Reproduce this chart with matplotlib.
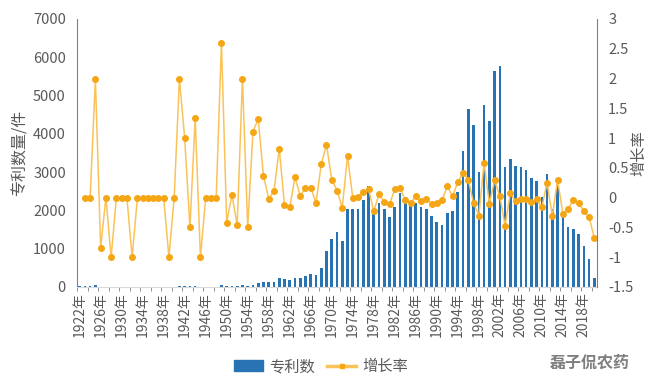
import numpy as np
import matplotlib.pyplot as plt
from matplotlib.patches import Patch
from matplotlib.lines import Line2D

plt.rcParams['font.family'] = ['Noto Sans CJK SC', 'DejaVu Sans']

years = list(range(1922, 2021))

# patent counts per year
patents = [15, 15, 15, 45, 7, 7, 0, 0, 0, 8,
           0, 0, 0, 0, 0, 0, 5, 0, 5, 15,
           30, 15, 35, 0, 0, 0, 12, 43, 25, 26,
           14, 42, 21, 44, 102, 120, 118, 131, 238, 210,
           176, 236, 243, 284, 332, 302, 489, 950, 1248, 1431,
           1196, 2033, 2033, 2050, 2269, 2636, 2030, 2190, 2034, 1825,
           2087, 2453, 2348, 2139, 2190, 2087, 2034, 1851, 1694, 1615,
           1929, 1982, 2480, 3553, 4652, 4233, 3003, 4757, 4338, 5647,
           5778, 3134, 3343, 3160, 3134, 3055, 2845, 2766, 2348, 2950,
           2034, 2689, 1930, 1570, 1510, 1380, 1080, 720, 236]

# growth rate, starts at 1923
growth = [0, 0, 2.0, -0.84, 0, -1, 0, 0, 0, -1,
          0, 0, 0, 0, 0, 0, -1, 0, 2.0, 1.0,
          -0.5, 1.33, -1, 0, 0, 0, 2.6, -0.42, 0.05, -0.46,
          2.0, -0.5, 1.11, 1.32, 0.37, -0.02, 0.11, 0.82, -0.12, -0.16,
          0.34, 0.03, 0.17, 0.17, -0.09, 0.56, 0.89, 0.30, 0.12, -0.17,
          0.70, 0.0, 0.01, 0.09, 0.15, -0.23, 0.06, -0.07, -0.11, 0.14,
          0.16, -0.04, -0.09, 0.02, -0.06, -0.03, -0.10, -0.09, -0.04, 0.19,
          0.02, 0.26, 0.42, 0.30, -0.09, -0.30, 0.59, -0.10, 0.29, 0.02,
          -0.47, 0.07, -0.06, -0.02, -0.03, -0.08, -0.03, -0.16, 0.25, -0.31,
          0.30, -0.27, -0.19, -0.04, -0.09, -0.22, -0.33, -0.68]

tick_years = years[::4]
tick_labels = [f'{y}年' for y in tick_years]

bar_color = '#2873B3'
line_color = '#FAC35A'
mark_color = '#F5A614'
text_color = '#595959'

fig = plt.figure(figsize=(6.49, 3.9), dpi=100)
ax = fig.add_axes([77/649, 1-287/390, 520/649, 268/390])
x = np.arange(len(years))
ax.bar(x, patents, width=0.5, color=bar_color)
ax.set_xlim(-0.5, len(years)-0.5)
ax.set_ylim(0, 7000)
ax.set_yticks(range(0, 7001, 1000))
ax.set_xticks([years.index(y) for y in tick_years])
ax.set_xticklabels(tick_labels, rotation=90, fontsize=10, color=text_color)
ax.set_xticks(np.arange(-0.5, len(years), 2), minor=True)
ax.tick_params(axis='x', which='major', length=0, pad=4)
ax.tick_params(axis='x', which='minor', length=3, color='#808080')
ax.tick_params(axis='y', length=0, pad=8, labelsize=10.5, labelcolor=text_color)
ax.set_ylabel('专利数量/件', fontsize=11.5, color=text_color, labelpad=3)
for s in ['top', 'right']:
    ax.spines[s].set_visible(False)
ax.spines['left'].set_color('#808080')
ax.spines['bottom'].set_color('#D9D9D9')

ax2 = ax.twinx()
ax2.plot(x[1:], growth, color=line_color, lw=1.1, marker='o', markersize=4,
         markerfacecolor=mark_color, markeredgecolor=mark_color)
ax2.set_ylim(-1.5, 3)
ax2.set_yticks(np.arange(-1.5, 3.01, 0.5))
ax2.set_yticklabels(['-1.5', '-1', '-0.5', '0', '0.5', '1', '1.5', '2', '2.5', '3'])
ax2.tick_params(axis='y', length=0, pad=8, labelsize=10.5, labelcolor=text_color)
ax2.set_ylabel('增长率', fontsize=11, color=text_color, rotation=90)
ax2.yaxis.set_label_coords(1.065, 0.5)
for s in ['top', 'left', 'bottom']:
    ax2.spines[s].set_visible(False)
ax2.spines['right'].set_color('#808080')

handles = [Patch(color=bar_color),
           Line2D([], [], color=line_color, lw=2.5, marker='s', markersize=3.5,
                  markerfacecolor=mark_color, markeredgecolor=mark_color)]
fig.legend(handles, ['专利数', '增长率'], loc='center', bbox_to_anchor=(0.495, 0.06),
           ncol=2, frameon=False, fontsize=11, handlelength=1.9, columnspacing=0.8,
           handletextpad=0.4, labelcolor=text_color)

fig.text(0.97, 0.07, '磊子侃农药', ha='right', va='center', fontsize=11.5,
         color='#7F7F7F', style='italic', fontweight='bold')

fig.savefig('out.png', dpi=100)
